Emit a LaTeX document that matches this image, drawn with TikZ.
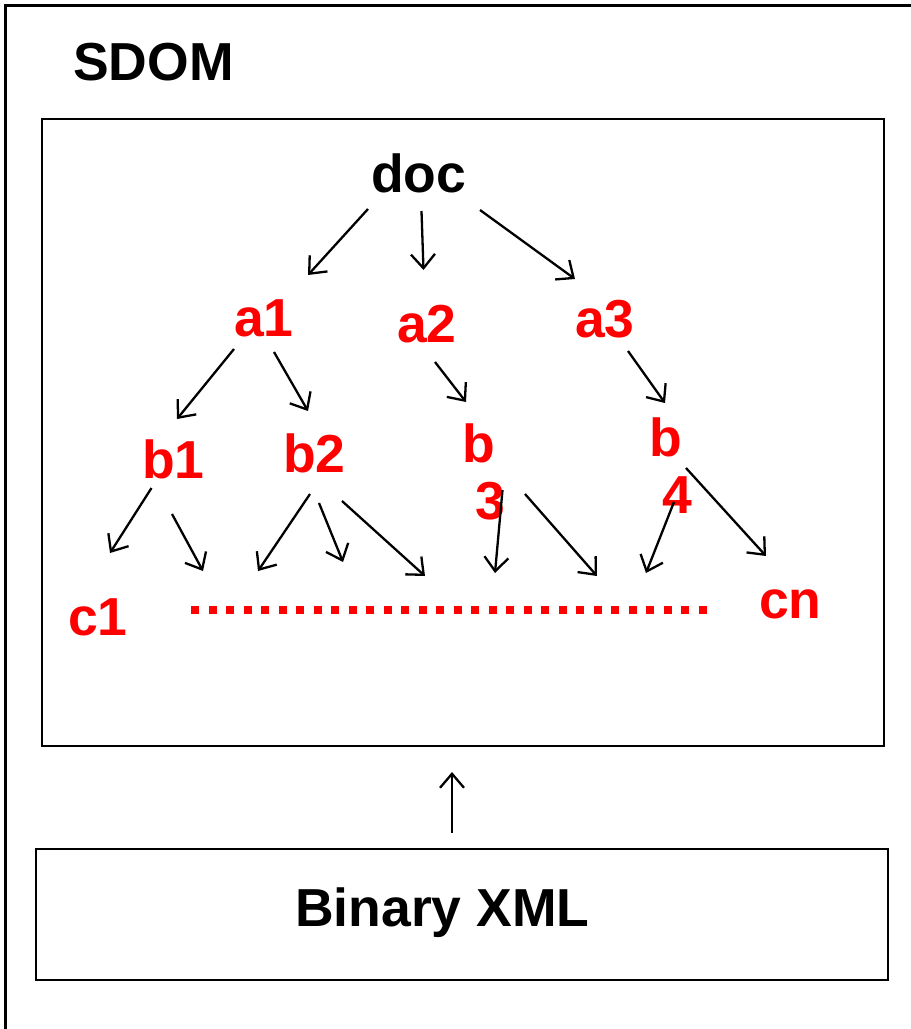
\documentclass[tikz,border=0pt]{standalone}
\usepackage{fontspec}
\setmainfont{Liberation Sans}
\usetikzlibrary{arrows.meta}
\begin{document}
\begin{tikzpicture}[x=1pt,y=-1pt,
  lbl/.style={font=\fontsize{53.5}{57}\selectfont\bfseries, inner sep=0pt, anchor=base west, align=left},
  redlbl/.style={lbl, text=red},
  arr/.style={draw=black, line width=2.3pt, -{Straight Barb[length=14pt,width=24pt]}},
  frame/.style={draw=black, line width=2.5pt, inner sep=0pt}]
\useasboundingbox (0,0) rectangle (911,1029);
% outer frame, only its top and left edges fall on the page
\draw[line width=3pt] (5,1029) -- (5,5) -- (911,5);
\node[lbl] (sdom) at (73,80) {SDOM};

% tree panel
\node[frame, minimum width=842pt, minimum height=627pt] (panel) at (463,432.5) {};
\node[lbl] (doc) at (371,192) {doc};
\node[redlbl] (a1) at (234,336) {a1};
\node[redlbl] (a2) at (397,342) {a2};
\node[redlbl] (a3) at (575,337) {a3};
\node[redlbl] (b1) at (142,478) {b1};
\node[redlbl] (b2) at (283,472) {b2};
% multi-line labels are placed by the baseline of their last line
\node[redlbl] (b3) at (462,519) {b\\\hspace*{13pt}3};
\node[redlbl] (b4) at (649,513) {b\\\hspace*{13pt}4};
\node[redlbl] (c1) at (68,635) {c1};
\node[redlbl] (cn) at (759,618) {cn};

% dotted row of siblings between c1 and cn
\foreach \i in {0,...,29}
  \fill[red] ({191+\i*17.5},606) rectangle ++(8,8);

% edge end points
\coordinate (doc-s1) at (368,209);   \coordinate (a1-t) at (308,275);
\coordinate (doc-s2) at (421.5,211); \coordinate (a2-t) at (423.5,270);
\coordinate (doc-s3) at (480,210);   \coordinate (a3-t) at (575,279);
\coordinate (a1-s1) at (234,349);    \coordinate (b1-t) at (177,419);
\coordinate (a1-s2) at (274,352);    \coordinate (b2-t) at (308,411);
\coordinate (a2-s) at (435,362);     \coordinate (b3-t) at (466,402);
\coordinate (a3-s) at (628,351);     \coordinate (b4-t) at (665,403);
\coordinate (b1-s1) at (151.5,488);  \coordinate (e1) at (110,553);
\coordinate (b1-s2) at (172,514);    \coordinate (e2) at (203,571);
\coordinate (b2-s1) at (310,494);    \coordinate (e3) at (258,571);
\coordinate (b2-s2) at (319,503);    \coordinate (e4) at (343,562);
\coordinate (b2-s3) at (342,501);    \coordinate (e5) at (425,576);
\coordinate (b3-s1) at (502.5,490);  \coordinate (e6) at (495,573);
\coordinate (b3-s2) at (525,494);    \coordinate (e7) at (597,576);
\coordinate (b4-s1) at (674,502);    \coordinate (e8) at (646,573);
\coordinate (b4-s2) at (686,468);    \coordinate (cn-t) at (766,556);

\draw[arr] (doc-s1) -- (a1-t);
\draw[arr] (doc-s2) -- (a2-t);
\draw[arr] (doc-s3) -- (a3-t);
\draw[arr] (a1-s1) -- (b1-t);
\draw[arr] (a1-s2) -- (b2-t);
\draw[arr] (a2-s) -- (b3-t);
\draw[arr] (a3-s) -- (b4-t);
\draw[arr] (b1-s1) -- (e1);
\draw[arr] (b1-s2) -- (e2);
\draw[arr] (b2-s1) -- (e3);
\draw[arr] (b2-s2) -- (e4);
\draw[arr] (b2-s3) -- (e5);
\draw[arr] (b3-s1) -- (e6);
\draw[arr] (b3-s2) -- (e7);
\draw[arr] (b4-s1) -- (e8);
\draw[arr] (b4-s2) -- (cn-t);

% source box
\node[frame, minimum width=852pt, minimum height=131pt] (bxbox) at (462,914.5) {};
\node[lbl] (bx) at (295,926) {Binary XML};
\coordinate (bx-s) at (452,833);
\coordinate (panel-t) at (452,772);
\draw[arr] (bx-s) -- (panel-t);
\end{tikzpicture}
\end{document}
